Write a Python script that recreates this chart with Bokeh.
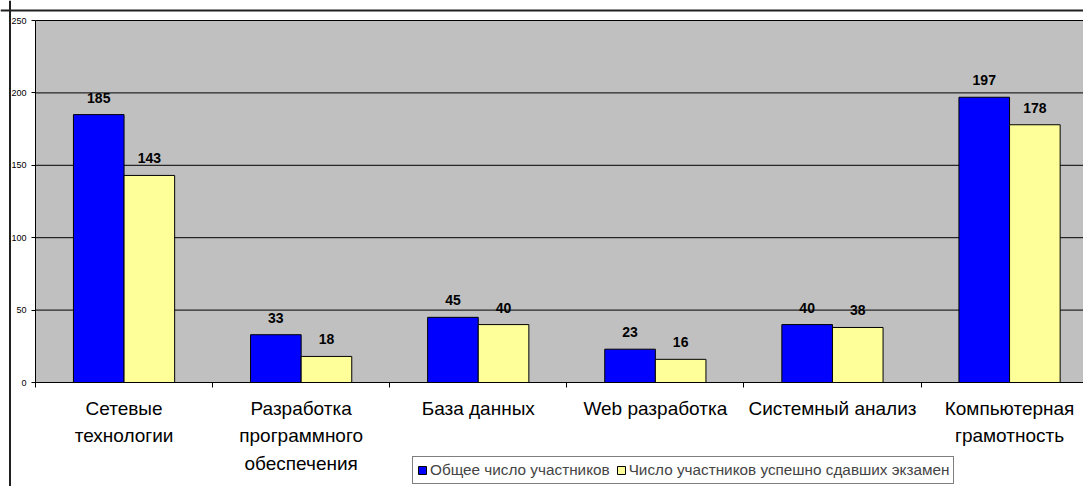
from bokeh.plotting import figure
from bokeh.models import (ColumnDataSource, Range1d, FixedTicker, Legend, LegendItem,
                          LinearAxis, BoxAnnotation, Span)
from bokeh.core.properties import value
from bokeh.embed import file_html
from bokeh.resources import INLINE

categories = ["Сетевые\nтехнологии", "Разработка\nпрограммного\nобеспечения", "База данных",
              "Web разработка", "Системный анализ", "Компьютерная\nграмотность"]
total = [185, 33, 45, 23, 40, 197]
passed = [143, 18, 40, 16, 38, 178]
series_names = ["Общее число участников", "Число участников успешно сдавших экзамен"]
y_ticks = [0, 50, 100, 150, 200, 250]

FONT = "Liberation Sans"
n = len(categories)
bw = 1 / 3.5
centers = [i + 0.5 for i in range(n)]
x_blue = [c - bw / 2 for c in centers]
x_yel = [c + bw / 2 for c in centers]

src_b = ColumnDataSource(dict(x=x_blue, top=total, lab=[str(v) for v in total]))
src_y = ColumnDataSource(dict(x=x_yel, top=passed, lab=[str(v) for v in passed]))

# geometry (page pixels): canvas 0..1083 x 0..486, value axis at x=35, 0 at y=382, 250 at y=20
W, H = 1083, 486
XPX = 177.1
YPX = 362 / 250
x_range = Range1d(-35 / XPX, (W - 35) / XPX)
y_range = Range1d(-(H - 382) / YPX, 250 + 20 / YPX)

p = figure(width=W, height=H, output_backend="svg", toolbar_location=None,
           x_range=x_range, y_range=y_range,
           x_axis_location=None, y_axis_location=None,
           min_border=0, min_border_left=0, min_border_right=0,
           min_border_top=0, min_border_bottom=0,
           background_fill_color="white", border_fill_color="white",
           outline_line_color=None)
p.xgrid.visible = False
p.ygrid.visible = False

# gray plot area
p.add_layout(BoxAnnotation(left=0, bottom=0, top=250, fill_color="#C0C0C0", fill_alpha=1.0,
                           line_color=None, level="underlay"))

# horizontal grid lines
p.segment(x0=[0] * len(y_ticks), x1=[n] * len(y_ticks), y0=y_ticks, y1=y_ticks,
          line_color="#000000", line_width=1)

rb = p.vbar(x="x", top="top", width=bw, source=src_b, fill_color="#0000FF",
            line_color="#000000", line_width=1)
ry = p.vbar(x="x", top="top", width=bw, source=src_y, fill_color="#FFFF99",
            line_color="#000000", line_width=1)

for s in (src_b, src_y):
    p.text(x="x", y="top", text="lab", source=s, text_align="center", text_baseline="bottom",
           y_offset=-12, text_font=value(FONT), text_font_size="14px", text_font_style="bold",
           text_color="#000000")

# value axis
yax = LinearAxis(fixed_location=0, bounds=(0, 250), ticker=FixedTicker(ticks=y_ticks))
yax.major_label_text_font = FONT
yax.major_label_text_font_size = "9px"
yax.major_label_text_color = "#000000"
yax.major_tick_out = 4
yax.major_tick_in = 0
yax.minor_tick_line_color = None
yax.axis_line_color = "#000000"
yax.major_tick_line_color = "#000000"
yax.major_label_standoff = 5
p.add_layout(yax, "left")

# category axis
xax = LinearAxis(fixed_location=0, bounds=(0, n),
                 ticker=FixedTicker(ticks=centers, minor_ticks=list(range(0, n + 1))))
xax.major_label_overrides = {c: lab for c, lab in zip(centers, categories)}
xax.major_tick_line_color = None
xax.major_tick_out = 0
xax.major_tick_in = 0
xax.minor_tick_out = 5
xax.minor_tick_in = 0
xax.minor_tick_line_color = "#000000"
xax.axis_line_color = "#000000"
xax.major_label_text_font = FONT
xax.major_label_text_font_size = "19px"
xax.major_label_text_line_height = 1.31
xax.major_label_standoff = 10
xax.major_label_text_color = "#000000"
p.add_layout(xax, "below")

# outer chart border (left and top visible)
p.add_layout(Span(location=(9.5 - 35) / XPX, dimension="height",
                  line_color="#202020", line_width=2))
p.add_layout(Span(location=250 + (20 - 10) / YPX, dimension="width",
                  line_color="#202020", line_width=2))

legend = Legend(items=[LegendItem(label=series_names[0], renderers=[rb]),
                       LegendItem(label=series_names[1], renderers=[ry])],
                orientation="horizontal", location=(412, 2),
                glyph_width=10, glyph_height=10, label_standoff=3, spacing=6,
                padding=4, margin=0, label_text_font=FONT, label_text_font_size="15.3px",
                label_height=15, border_line_color="#000000", border_line_width=1,
                background_fill_color="white", background_fill_alpha=1.0)
p.add_layout(legend, "center")

open("out.html", "w").write(file_html(p, INLINE))
